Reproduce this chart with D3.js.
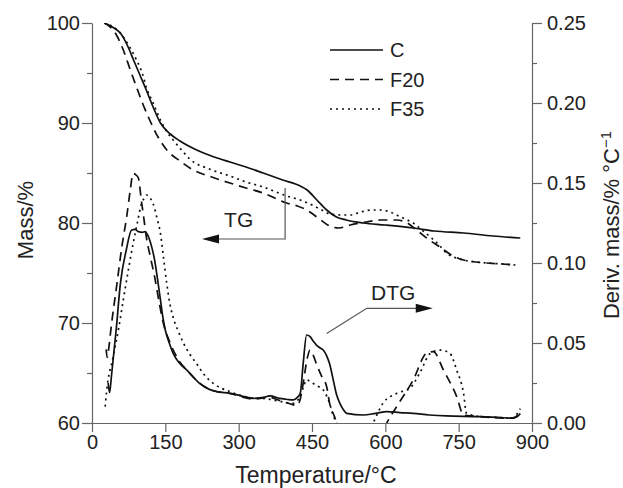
<!DOCTYPE html>
<html>
<head>
<meta charset="utf-8">
<script src="https://cdn.jsdelivr.net/npm/d3@7"></script>
<style>
  body { margin: 0; background: #fff; }
  svg { display: block; font-family: "Liberation Sans", Arial, sans-serif; }
  .axis path, .axis line { stroke: #666; stroke-width: 1.2; }
  .axis text { fill: #222; font-size: 20px; }
</style>
</head>
<body>
<div id="chart"></div>
<script>
// temperature / mass (%) readings for the TG curves
var tgC = [[25,100],[30,99.9],[45,99.5],[58,99],[72,97.8],[85,96.3],[98,94.8],[111,93.3],[125,91.6],[140,90],
  [160,88.9],[180,88.2],[214,87.3],[250,86.6],[282,86.1],[315,85.6],[350,85],[390,84.3],[426,83.7],[440,83.3],
  [460,82.3],[480,81.3],[500,80.6],[520,80.3],[555,80],[600,79.8],[657,79.5],[700,79.2],[760,79],[820,78.7],[876,78.5]];
var tgF20 = [[25,100],[35,99.7],[50,98.8],[64,97.3],[77,95.5],[91,93.6],[104,91.9],[118,90.3],[135,88.6],[153,87.3],
  [180,86.2],[207,85.3],[245,84.6],[282,84],[315,83.5],[350,83],[398,82],[420,81.7],[439,81.3],[460,80.6],[486,79.7],
  [505,79.5],[528,79.8],[560,80.1],[590,80.3],[623,80.3],[645,80],[664,79.3],[690,78.3],[712,77.6],[735,76.8],
  [760,76.3],[785,76.1],[807,76],[840,75.9],[866,75.8]];
var tgF35 = [[25,100],[40,99.7],[52,99.3],[64,98.6],[77,97.6],[91,96.3],[104,94.8],[111,93.6],[125,92],[140,90.3],
  [152,89.2],[166,88.3],[185,87.2],[200,86.4],[240,85.4],[282,84.7],[315,84.1],[350,83.6],[398,82.7],[426,82.3],
  [450,81.8],[470,81.3],[486,80.9],[510,80.8],[528,80.8],[550,81.1],[570,81.3],[590,81.3],[610,81.1],[623,80.8],
  [645,80.3],[657,80],[675,79.3],[692,78.6],[710,77.8],[725,77],[745,76.5],[760,76.3],[785,76.1],[807,76],[840,75.9],[866,75.8]];

// temperature / derivative mass readings for the DTG curves
var dtgC = [[33,0.025],[36,0.019],[40,0.03],[50,0.06],[58,0.087],[70,0.108],[81,0.1206],[88,0.121],[95,0.1196],
  [103,0.1192],[108,0.1196],[113,0.118],[118,0.1144],[123,0.109],[128,0.102],[134,0.09],[140,0.0769],[145,0.066],
  [150,0.058],[158,0.05],[166,0.0435],[180,0.037],[194,0.0331],[220,0.0248],[240,0.021],[255,0.0196],[282,0.0185],
  [305,0.017],[330,0.0154],[350,0.016],[364,0.0169],[384,0.0154],[400,0.0147],[412,0.0144],[420,0.016],[426,0.0185],
  [432,0.0373],[439,0.055],[446,0.054],[453,0.051],[459,0.0487],[466,0.047],[473,0.0456],[480,0.042],[486,0.037],
  [492,0.029],[500,0.018],[507,0.0123],[515,0.008],[521,0.006],[555,0.005],[580,0.006],[603,0.0071],[630,0.0065],
  [657,0.006],[690,0.005],[725,0.0044],[794,0.004],[830,0.0035],[861,0.003],[870,0.004],[876,0.006]];
var dtgF20 = [[29,0.046],[31,0.041],[33,0.044],[40,0.062],[51,0.087],[61,0.11],[71,0.129],[78,0.145],[84,0.156],
  [90,0.155],[95,0.153],[101,0.139],[106,0.128],[111,0.1165],[120,0.103],[128,0.0915],[137,0.076],[146,0.0623],
  [160,0.05],[173,0.0415],[200,0.031],[220,0.025],[250,0.02],[282,0.0185],[330,0.015],[364,0.016],[384,0.014],
  [405,0.012],[419,0.011],[426,0.015],[432,0.0248],[440,0.04],[446,0.0456],[453,0.042],[459,0.037],[470,0.029],
  [480,0.0227],[486,0.0123],[496,0.004],[510,-0.008],[590,-0.008],[603,0],[623,0.0102],[657,0.0269],[684,0.0435],
  [698,0.0446],[719,0.033],[746,0.0165],[760,0.005],[794,0.004],[855,0.003],[868,0.004],[872,0.008]];
var dtgF35 = [[27,0.0102],[30,0.02],[43,0.041],[55,0.06],[64,0.077],[74,0.095],[84,0.112],[94,0.127],[101,0.137],
  [108,0.141],[111,0.1425],[118,0.141],[125,0.137],[133,0.128],[140,0.1185],[146,0.104],[153,0.087],[159,0.075],
  [166,0.066],[177,0.057],[187,0.05],[200,0.043],[214,0.037],[230,0.03],[248,0.0248],[282,0.0196],[320,0.016],
  [360,0.015],[385,0.0135],[412,0.0123],[420,0.014],[426,0.0165],[432,0.022],[439,0.027],[446,0.026],[452,0.0248],
  [462,0.023],[473,0.0206],[486,0.0123],[492,0.006],[500,0],[510,-0.008],[565,-0.006],[575,0],[595,0.0123],
  [623,0.0185],[650,0.0217],[670,0.031],[692,0.0435],[712,0.0456],[732,0.0435],[746,0.033],[760,0.0185],[766,0.006],
  [794,0.004],[830,0.0035],[861,0.003],[870,0.006],[876,0.009]];

var seriesNames = ["C", "F20", "F35"];
var xTicks = [0, 150, 300, 450, 600, 750, 900];
var massTicks = [60, 70, 80, 90, 100];
var derivTicks = [0, 0.05, 0.10, 0.15, 0.20, 0.25];

var width = 623, height = 488;
var margin = {top: 23, right: 91, bottom: 65, left: 92};

var svg = d3.select("#chart").append("svg")
    .attr("width", width).attr("height", height);

var x = d3.scaleLinear().domain([0, 900]).range([margin.left, width - margin.right]);
var yM = d3.scaleLinear().domain([60, 100]).range([height - margin.bottom, margin.top]);
var yD = d3.scaleLinear().domain([0, 0.25]).range([height - margin.bottom, margin.top]);

var dash = {C: null, F20: "9,6", F35: "2,4"};

svg.append("clipPath").attr("id", "plot")
  .append("rect")
    .attr("x", margin.left).attr("y", margin.top)
    .attr("width", x(900) - x(0)).attr("height", yM(60) - yM(100));

// minor ticks
svg.append("g").attr("class", "axis")
    .attr("transform", "translate(" + margin.left + ",0)")
    .call(d3.axisLeft(yM).tickValues([65, 75, 85, 95]).tickSize(5).tickFormat(""))
    .select(".domain").remove();
svg.append("g").attr("class", "axis")
    .attr("transform", "translate(" + x(900) + ",0)")
    .call(d3.axisRight(yD).tickValues([0.025, 0.075, 0.125, 0.175, 0.225]).tickSize(5).tickFormat(""))
    .select(".domain").remove();

svg.append("g").attr("class", "axis")
    .attr("transform", "translate(" + margin.left + ",0)")
    .call(d3.axisLeft(yM).tickValues(massTicks).tickSize(10).tickSizeOuter(0).tickPadding(2));
svg.append("g").attr("class", "axis")
    .attr("transform", "translate(" + x(900) + ",0)")
    .call(d3.axisRight(yD).tickValues(derivTicks).tickSize(10).tickSizeOuter(0).tickPadding(5)
      .tickFormat(d3.format(".2f")));
svg.append("g").attr("class", "axis")
    .attr("transform", "translate(0," + yM(60) + ")")
    .call(d3.axisBottom(x).tickValues(xTicks).tickSize(9).tickSizeOuter(0).tickPadding(3));

// curves
var lineM = d3.line().x(function(d) { return x(d[0]); }).y(function(d) { return yM(d[1]); })
    .curve(d3.curveMonotoneX);
var lineD = d3.line().x(function(d) { return x(d[0]); }).y(function(d) { return yD(d[1]); })
    .curve(d3.curveMonotoneX);

var curves = svg.append("g").attr("clip-path", "url(#plot)");
[[tgC, "C"], [tgF20, "F20"], [tgF35, "F35"]].forEach(function(s) {
  curves.append("path").datum(s[0])
    .attr("d", lineM)
    .attr("fill", "none").attr("stroke", "#111").attr("stroke-width", 1.7)
    .attr("stroke-dasharray", dash[s[1]]);
});
[[dtgC, "C"], [dtgF20, "F20"], [dtgF35, "F35"]].forEach(function(s) {
  curves.append("path").datum(s[0])
    .attr("d", lineD)
    .attr("fill", "none").attr("stroke", "#111").attr("stroke-width", 1.7)
    .attr("stroke-dasharray", dash[s[1]]);
});

// legend
var legend = svg.append("g").attr("transform", "translate(330,50)");
seriesNames.forEach(function(name, i) {
  var g = legend.append("g").attr("transform", "translate(0," + (i * 29.5) + ")");
  g.append("line").attr("x1", 0).attr("x2", 53).attr("y1", 0).attr("y2", 0)
    .attr("stroke", "#111").attr("stroke-width", 1.7)
    .attr("stroke-dasharray", dash[name]);
  g.append("text").attr("x", 60).attr("y", 7).attr("font-size", 20).attr("fill", "#222").text(name);
});

// annotation arrows
function arrowHead(tx, ty, dir) {
  var len = 17, hw = 4.5;
  return "M" + tx + "," + ty + "L" + (tx - dir * len) + "," + (ty - hw) + "L" + (tx - dir * len) + "," + (ty + hw) + "Z";
}
var ann = svg.append("g").attr("stroke", "#555").attr("stroke-width", 1.2).attr("fill", "none");
var tgx = x(395), tgTop = yM(83.5), tgBot = yM(78.4), tgTip = x(225);
ann.append("path").attr("d", "M" + tgx + "," + tgTop + "V" + tgBot + "H" + (tgTip + 10));
svg.append("path").attr("d", arrowHead(tgTip, tgBot, -1)).attr("fill", "#111");
svg.append("text").attr("x", x(300)).attr("y", yM(79.6)).attr("text-anchor", "middle")
  .attr("font-size", 21).attr("fill", "#222").text("TG");

var d0 = [x(480), yD(0.056)], d1 = [x(562), yD(0.0717)], dTip = x(697);
ann.append("path").attr("d", "M" + d0[0] + "," + d0[1] + "L" + d1[0] + "," + d1[1] + "H" + (dTip - 10));
svg.append("path").attr("d", arrowHead(dTip, d1[1], 1)).attr("fill", "#111");
svg.append("text").attr("x", x(616)).attr("y", yD(0.0766)).attr("text-anchor", "middle")
  .attr("font-size", 21).attr("fill", "#222").text("DTG");

// axis titles
svg.append("text").attr("x", 316).attr("y", 483).attr("text-anchor", "middle")
  .attr("font-size", 23).attr("fill", "#222").text("Temperature/°C");
svg.append("text").attr("transform", "translate(33,220) rotate(-90)")
  .attr("text-anchor", "middle").attr("font-size", 22).attr("fill", "#222").text("Mass/%");
var dt = svg.append("text").attr("transform", "translate(619,225) rotate(-90)")
  .attr("text-anchor", "middle").attr("font-size", 22).attr("fill", "#222");
dt.append("tspan").text("Deriv. mass/% °C");
dt.append("tspan").attr("dy", -8).attr("font-size", 15).text("−1");
</script>
</body>
</html>
